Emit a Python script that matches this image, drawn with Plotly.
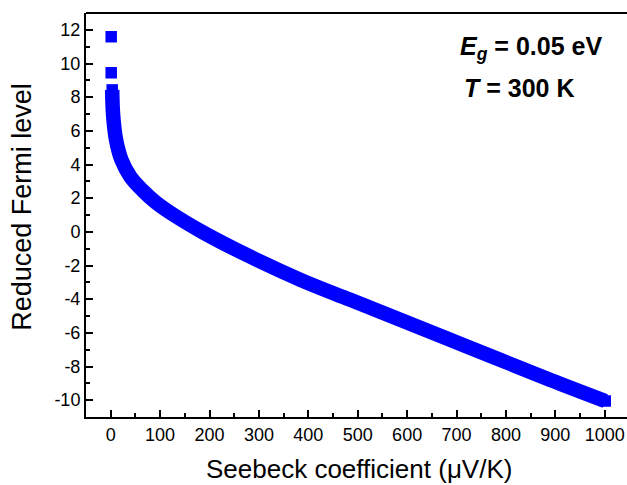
import plotly.graph_objects as go

# Seebeck coefficient (uV/K) and reduced Fermi level
seebeck_isolated = [1, 1]
eta_isolated = [11.59, 9.45]

seebeck = [3, 5, 11, 22, 40, 65, 90, 120, 185, 282, 384, 485, 586, 687, 788, 890, 1001]
eta = [8.43, 6.9, 5.44, 4.26, 3.27, 2.45, 1.78, 1.15, 0.0, -1.47, -2.85, -4.04, -5.22,
       -6.41, -7.6, -8.8, -10.05]

x_ticks = list(range(0, 1001, 100))
y_ticks = list(range(-10, 13, 2))

BLUE = "rgb(0,0,255)"
FONT = "Liberation Sans, Arial, sans-serif"

fig = go.Figure()
fig.add_trace(go.Scatter(
    x=seebeck, y=eta, mode="lines",
    line=dict(color=BLUE, width=14.5, shape="spline", smoothing=1.0),
    hoverinfo="skip", showlegend=False,
))
fig.add_trace(go.Scatter(
    x=seebeck_isolated + [seebeck[0], seebeck[-1]],
    y=eta_isolated + [eta[0], eta[-1]],
    mode="markers",
    marker=dict(symbol="square", size=11.5, color=BLUE, line=dict(width=0)),
    showlegend=False,
))

fig.update_layout(
    width=627, height=485,
    margin=dict(l=86, r=0, t=13, b=68),
    paper_bgcolor="white", plot_bgcolor="white",
    font=dict(family=FONT, color="black"),
    showlegend=False,
)

fig.update_xaxes(
    range=[-50, 1045], showgrid=False, zeroline=False,
    showline=True, linecolor="black", linewidth=2, mirror=False,
    ticks="inside", ticklen=7, tickwidth=2, tickcolor="black",
    tickvals=x_ticks, ticktext=[str(v) for v in x_ticks],
    tickfont=dict(size=18, family=FONT, color="black"),
    minor=dict(ticks="inside", ticklen=4, tickwidth=2, tickcolor="black", dtick=50, tick0=0),
)
fig.update_yaxes(
    range=[-11, 13], showgrid=False, zeroline=False,
    showline=True, linecolor="black", linewidth=2, mirror=False,
    ticks="inside", ticklen=7, tickwidth=2, tickcolor="black",
    tickvals=y_ticks, ticktext=[str(v) for v in y_ticks],
    tickfont=dict(size=18, family=FONT, color="black"),
    minor=dict(ticks="inside", ticklen=4, tickwidth=2, tickcolor="black", dtick=1, tick0=0),
)

# top frame line
fig.add_shape(type="line", xref="paper", yref="paper", x0=0, x1=1, y0=1, y1=1,
              line=dict(color="black", width=2))

fig.add_annotation(text="Seebeck coefficient (μV/K)", xref="paper", yref="paper",
                   x=0.5037, y=-0.128, xanchor="center", yanchor="middle",
                   showarrow=False, font=dict(size=26, family=FONT, color="black"))
fig.add_annotation(text="Reduced Fermi level", xref="paper", yref="paper",
                   x=-0.118, y=0.5206, xanchor="center", yanchor="middle", textangle=-90,
                   showarrow=False, font=dict(size=27, family=FONT, color="black"))

fig.add_annotation(text="<b><i>E</i><sub><i>g</i></sub> = 0.05 eV</b>", xref="paper", yref="paper",
                   x=0.6876, y=0.913, xanchor="left", yanchor="middle",
                   showarrow=False, font=dict(size=25, family=FONT, color="black"))
fig.add_annotation(text="<b><i>T</i> = 300 K</b>", xref="paper", yref="paper",
                   x=0.695, y=0.814, xanchor="left", yanchor="middle",
                   showarrow=False, font=dict(size=25, family=FONT, color="black"))

fig.write_html("out.html")
